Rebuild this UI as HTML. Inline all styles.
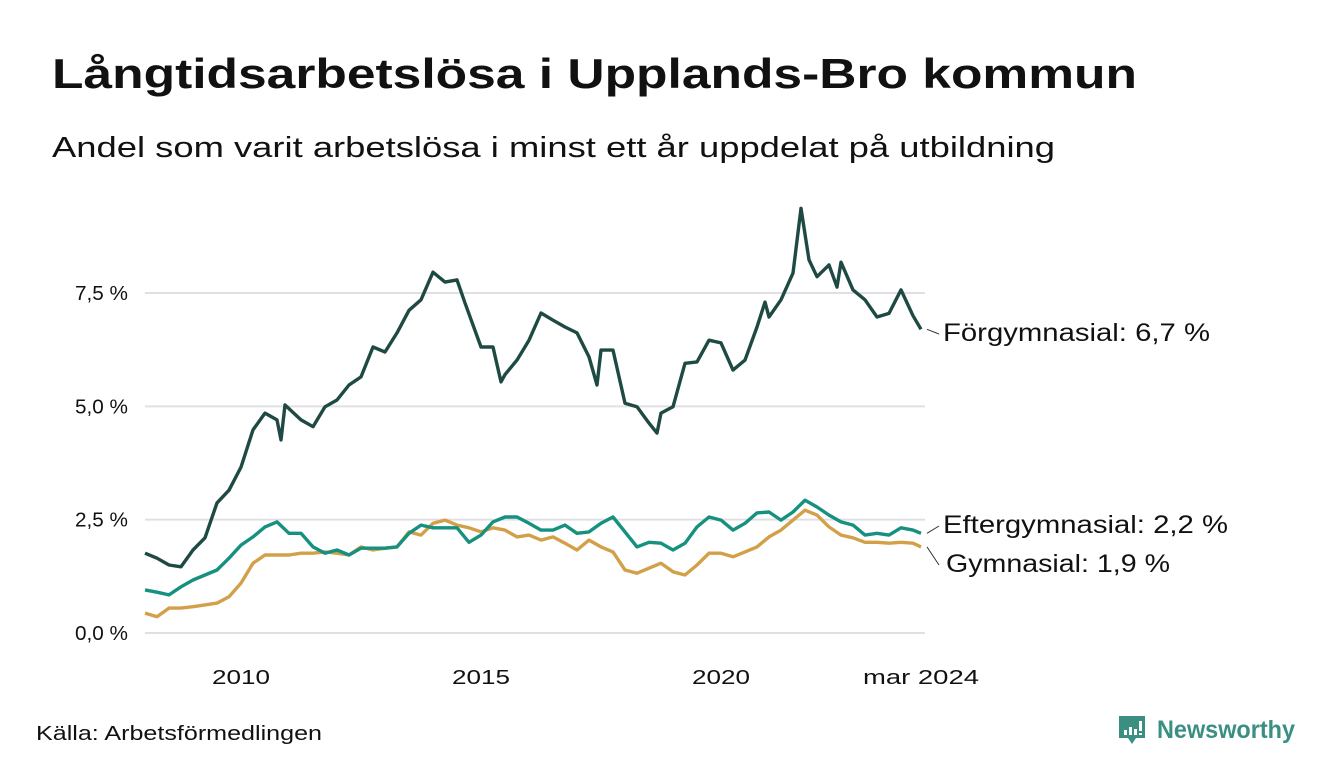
<!DOCTYPE html>
<html><head><meta charset="utf-8">
<style>
body{margin:0;background:#fff;font-family:"Liberation Sans","DejaVu Sans",sans-serif;}
#wrap{position:relative;width:1340px;height:780px;overflow:hidden;background:#fff;}
</style></head>
<body>
<div id="wrap">
<svg id="svg" width="1340" height="780">
  <text x="52" y="88" font-size="42" font-weight="bold" fill="#111" textLength="1085" lengthAdjust="spacingAndGlyphs">Långtidsarbetslösa i Upplands-Bro kommun</text>
  <text x="52" y="157" font-size="29" fill="#111" textLength="1003" lengthAdjust="spacingAndGlyphs">Andel som varit arbetslösa i minst ett år uppdelat på utbildning</text>
  <g id="grid"></g>
  <g id="lines"></g>
  <g id="labels"></g>
  <text x="36" y="740" font-size="20" fill="#111" textLength="286" lengthAdjust="spacingAndGlyphs">Källa: Arbetsförmedlingen</text>
  <g>
    <path d="M1119 716 h26 v22 h-9 l-4 6 l-4 -6 h-9 z" fill="#3b8f82"/>
    <rect x="1124" y="730" width="3" height="5" fill="#fff"/>
    <rect x="1129" y="727" width="3" height="8" fill="#fff"/>
    <rect x="1134" y="729" width="3" height="6" fill="#fff"/>
    <rect x="1139" y="721" width="3" height="10" fill="#fff"/>
    <rect x="1139" y="733" width="3" height="2" fill="#fff"/>
    <text x="1157" y="738" font-size="25" font-weight="bold" fill="#3b8f82" textLength="138" lengthAdjust="spacingAndGlyphs">Newsworthy</text>
  </g>
</svg>
</div>
<script>
// Data (months since Jan 2008)
const darkMonths = [0,3,6,9,12,15,18,21,24,27,30,33,34,35,39,42,45,48,51,54,57,60,63,66,69,72,75,78,80,84,87,89,90,93,96,99,102,105,108,111,113,114,117,120,123,126,128,129,132,135,138,141,144,147,150,153,155,156,159,162,164,166,168,171,173,174,177,180,183,186,189,192,194];
const forgymnasial = [1.76,1.65,1.5,1.46,1.83,2.1,2.87,3.15,3.66,4.48,4.85,4.7,4.26,5.03,4.7,4.55,4.99,5.14,5.47,5.65,6.31,6.2,6.62,7.12,7.35,7.96,7.74,7.79,7.28,6.31,6.31,5.54,5.7,6.02,6.46,7.06,6.9,6.75,6.62,6.09,5.47,6.24,6.24,5.07,4.99,4.63,4.41,4.85,4.99,5.95,5.98,6.46,6.4,5.8,6.02,6.75,7.3,6.97,7.35,7.94,9.37,8.23,7.86,8.12,7.63,8.18,7.57,7.35,6.97,7.05,7.57,7.0,6.7];
const months = [0,3,6,9,12,15,18,21,24,27,30,33,36,39,42,45,48,51,54,57,60,63,66,69,72,75,78,81,84,87,90,93,96,99,102,105,108,111,114,117,120,123,126,129,132,135,138,141,144,147,150,153,156,159,162,165,168,171,174,177,180,183,186,189,192,194];
const eftergymnasial = [0.95,0.9,0.84,1.02,1.17,1.28,1.39,1.65,1.94,2.12,2.34,2.45,2.2,2.2,1.9,1.76,1.83,1.72,1.87,1.87,1.87,1.9,2.2,2.38,2.32,2.32,2.32,2.0,2.16,2.45,2.56,2.56,2.42,2.27,2.27,2.38,2.2,2.23,2.42,2.56,2.23,1.9,2.0,1.98,1.83,1.98,2.34,2.56,2.49,2.27,2.42,2.65,2.67,2.49,2.67,2.93,2.78,2.6,2.45,2.38,2.16,2.2,2.16,2.32,2.27,2.2];
const gymnasial = [0.44,0.36,0.55,0.55,0.58,0.62,0.66,0.8,1.1,1.54,1.72,1.72,1.72,1.76,1.76,1.79,1.76,1.72,1.9,1.83,1.87,1.9,2.23,2.16,2.42,2.49,2.38,2.32,2.23,2.32,2.27,2.12,2.16,2.05,2.12,1.98,1.83,2.05,1.9,1.79,1.39,1.32,1.43,1.54,1.35,1.28,1.5,1.76,1.76,1.68,1.79,1.9,2.12,2.27,2.49,2.71,2.6,2.34,2.16,2.1,2.0,2.0,1.98,2.0,1.98,1.9];
const yTicks = [0,2.5,5,7.5];
const yTickLabels = ["0,0 %","2,5 %","5,0 %","7,5 %"];
const xTickMonths = [24,84,144,194];
const xTickLabels = ["2010","2015","2020","mar 2024"];

const X0=145, PXM=4, Y0=633, PXV=45.33;
const xs = m => X0 + m*PXM;
const ys = v => Y0 - v*PXV;
const NS="http://www.w3.org/2000/svg";
function mk(tag, attrs, parent){const e=document.createElementNS(NS,tag);for(const k in attrs)e.setAttribute(k,attrs[k]);parent.appendChild(e);return e;}
const grid=document.getElementById('grid'), lines=document.getElementById('lines'), labels=document.getElementById('labels');
yTicks.forEach((t,i)=>{
  const l=mk('line',{x1:145,x2:925,y1:ys(t),y2:ys(t),stroke:'#e0dfe4','stroke-width':2},grid);
  
  
  const tx=mk('text',{x:128,y:ys(t)+7,'text-anchor':'end','font-size':20,fill:'#111',textLength:53,lengthAdjust:'spacingAndGlyphs'},grid);
  tx.textContent=yTickLabels[i];
  
  
});
xTickMonths.forEach((m,i)=>{
  const w = xTickLabels[i].length>4 ? 116 : 58;
  const tx=mk('text',{x:xs(m),y:684,'text-anchor':'middle','font-size':20,fill:'#111',textLength:w,lengthAdjust:'spacingAndGlyphs'},grid);
  tx.textContent=xTickLabels[i];
  
  
});
function drawLine(ms,vals,color,name){
  const d=ms.map((m,i)=>(i?'L':'M')+xs(m).toFixed(1)+' '+ys(vals[i]).toFixed(1)).join(' ');
  const p=mk('path',{d:d,fill:'none',stroke:color,'stroke-width':3.4,'stroke-linejoin':'round'},lines);
  
  
}
drawLine(months,gymnasial,'#d3a04a','line-gymnasial');
drawLine(months,eftergymnasial,'#16907f','line-eftergymnasial');
drawLine(darkMonths,forgymnasial,'#1f4a44','line-forgymnasial');
function lab(txt,x,y,w,lastY,name){
  const lx=xs(194)+6;
  const c=mk('line',{x1:lx,y1:ys(lastY),x2:lx+12,y2:y-7,stroke:'#333','stroke-width':1},labels);
  
  
  const t=mk('text',{x:x,y:y,'font-size':25,fill:'#111',textLength:w,lengthAdjust:'spacingAndGlyphs'},labels);
  t.textContent=txt;
  
  
}
lab('Förgymnasial: 6,7 %',943,341,267,forgymnasial[forgymnasial.length-1],'label-forgymnasial');
lab('Eftergymnasial: 2,2 %',943,533,285,eftergymnasial[eftergymnasial.length-1],'label-eftergymnasial');
lab('Gymnasial: 1,9 %',946,572,224,gymnasial[gymnasial.length-1],'label-gymnasial');
</script>
</body></html>
